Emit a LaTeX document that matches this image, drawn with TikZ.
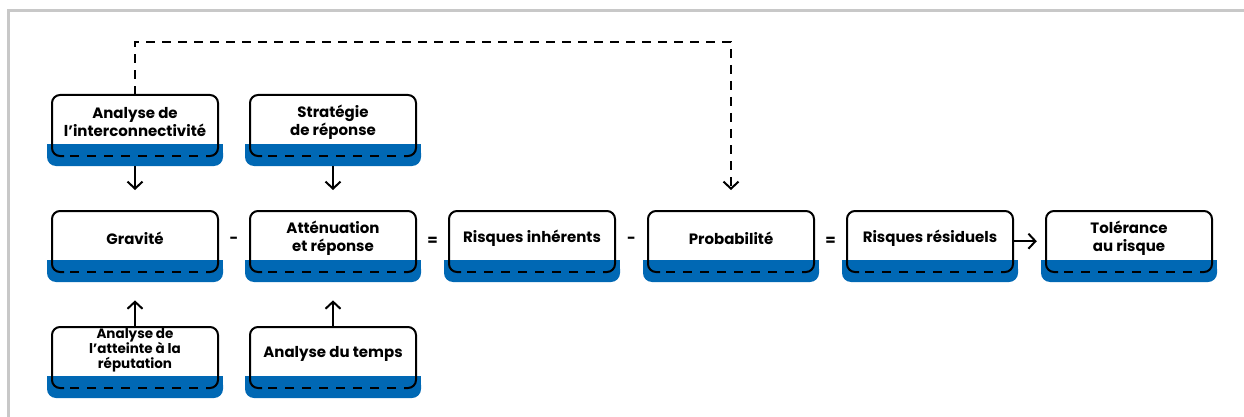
\documentclass[tikz,border=0pt]{standalone}
\usepackage{fontspec}
\setmainfont{Poppins}
\usetikzlibrary{arrows.meta,calc}
\definecolor{bandblue}{RGB}{0,104,180}
\definecolor{framegray}{RGB}{200,200,200}
\tikzset{
  boxtext/.style={minimum width=166pt, minimum height=54pt, inner sep=0pt, align=center,
    font=\fontsize{15}{17.5}\selectfont\bfseries, anchor=north},
  smalltext/.style={font=\fontsize{13.5}{15}\selectfont\bfseries},
  outline/.style={line width=2pt, rounded corners=8pt},
  bottomdash/.style={line width=2pt, dash pattern=on 9pt off 8pt, dash phase=11pt},
  arr/.style={line width=2pt, -{Straight Barb[length=7pt,width=15pt,line width=2pt]}},
  dasharr/.style={arr, dash pattern=on 9pt off 7pt},
  op/.style={font=\fontsize{15}{17}\selectfont\bfseries, inner sep=0pt}
}
% name, left, top, options, text
\newcommand\riskbox[5]{%
  \fill[bandblue, rounded corners=9pt] (#2-5,#3+49) rectangle (#2+171,#3+71);
  \fill[bandblue] (#2-5,#3+49) rectangle (#2+171,#3+60);
  \draw[outline] (#2+12,#3+61) -- (#2,#3+61) -- (#2,#3) -- (#2+166,#3) -- (#2+166,#3+61) -- (#2+154,#3+61);
  \draw[bottomdash] (#2+12,#3+61) -- (#2+154,#3+61);
  \node[boxtext,#4] (#1) at (#2+83,#3) {#5};
}
\begin{document}
\begin{tikzpicture}[x=1pt,y=-1pt]
\useasboundingbox (0,0) rectangle (1244,417);
\draw[framegray, line width=3pt] (8.7,417) -- (8.7,11) -- (1244,11);

\riskbox{inter}{52}{95}{}{Analyse de\\l’interconnectivité}
\riskbox{strat}{250}{95}{}{Stratégie\\de réponse}

\riskbox{grav}{52}{211}{}{Gravité}
\riskbox{att}{250}{211}{}{Atténuation\\et réponse}
\riskbox{inh}{449}{211}{}{Risques inhérents}
\riskbox{prob}{648}{211}{}{Probabilité}
\riskbox{resid}{847}{211}{}{Risques résiduels}
\riskbox{tol}{1046}{211}{}{Tolérance\\au risque}

\riskbox{repu}{52}{327}{smalltext, minimum height=46pt}{Analyse de\\l’atteinte à la\\réputation}
\riskbox{temps}{250}{327}{}{Analyse du temps}

% vertical arrows
\draw[arr] ($(inter.south)+(0,17)$) -- ($(grav.north)+(0,-21)$);
\draw[arr] ($(strat.south)+(0,17)$) -- ($(att.north)+(0,-21)$);
\draw[arr] (repu.north) -- ($(grav.south)+(0,35)$);
\draw[arr] (temps.north) -- ($(att.south)+(0,35)$);

% dashed feedback connector
\draw[dasharr] (inter.north) -- ++(0,-53) -| ($(prob.north)+(0,-21)$);

% horizontal arrow
\draw[arr, shorten >=9pt] ([yshift=-3pt]resid.east) -- ([yshift=-3pt]tol.west);

% operators
\node[op] (m1) at ($(grav.east)!0.5!(att.west)+(0,2)$) {-};
\node[op] (e1) at ($(att.east)!0.5!(inh.west)+(0,3)$) {=};
\node[op] (m2) at ($(inh.east)!0.5!(prob.west)+(0,2)$) {-};
\node[op] (e2) at ($(prob.east)!0.5!(resid.west)+(0,3)$) {=};
\end{tikzpicture}
\end{document}
